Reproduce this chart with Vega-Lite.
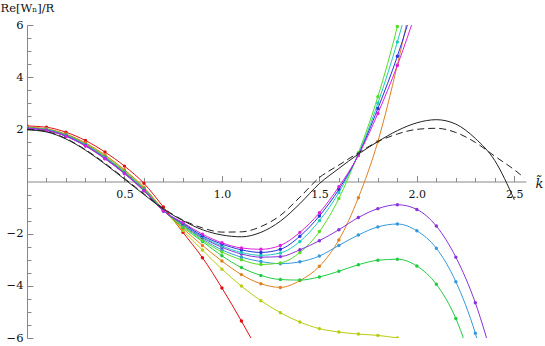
{
  "$schema": "https://vega.github.io/schema/vega-lite/v6.json",
  "width": 499,
  "height": 313,
  "autosize": {"type": "none"},
  "padding": {"left": 27, "top": 25, "right": 19, "bottom": 8},
  "background": "white",
  "config": {"view": {"stroke": null}, "axis": {"grid": false}, "font": "DejaVu Serif"},
  "datasets": {
    "col": [
      {"s":"red","x":0,"y":2.13},{"s":"red","x":0.1,"y":2.08},{"s":"red","x":0.2,"y":1.89},{"s":"red","x":0.3,"y":1.57},{"s":"red","x":0.4,"y":1.13},{"s":"red","x":0.5,"y":0.59},{"s":"red","x":0.6,"y":-0.07},{"s":"red","x":0.7,"y":-0.98},{"s":"red","x":0.8,"y":-1.95},{"s":"red","x":0.9,"y":-2.92},{"s":"red","x":1.0,"y":-4.08},{"s":"red","x":1.1,"y":-5.35},{"s":"red","x":1.2,"y":-6.7},
      {"s":"yg","x":0,"y":2.07},{"s":"yg","x":0.1,"y":2.01},{"s":"yg","x":0.2,"y":1.8},{"s":"yg","x":0.3,"y":1.46},{"s":"yg","x":0.4,"y":0.99},{"s":"yg","x":0.5,"y":0.42},{"s":"yg","x":0.6,"y":-0.25},{"s":"yg","x":0.7,"y":-1.09},{"s":"yg","x":0.8,"y":-1.88},{"s":"yg","x":0.9,"y":-2.63},{"s":"yg","x":1.0,"y":-3.36},{"s":"yg","x":1.1,"y":-4.01},{"s":"yg","x":1.2,"y":-4.57},{"s":"yg","x":1.3,"y":-5.03},{"s":"yg","x":1.4,"y":-5.39},{"s":"yg","x":1.5,"y":-5.64},{"s":"yg","x":1.6,"y":-5.77},{"s":"yg","x":1.7,"y":-5.85},{"s":"yg","x":1.8,"y":-5.9},{"s":"yg","x":1.9,"y":-6.0},
      {"s":"orange","x":0,"y":2.08},{"s":"orange","x":0.1,"y":2.02},{"s":"orange","x":0.2,"y":1.82},{"s":"orange","x":0.3,"y":1.48},{"s":"orange","x":0.4,"y":1.02},{"s":"orange","x":0.5,"y":0.45},{"s":"orange","x":0.6,"y":-0.22},{"s":"orange","x":0.7,"y":-1.08},{"s":"orange","x":0.8,"y":-1.8},{"s":"orange","x":0.9,"y":-2.45},{"s":"orange","x":1.0,"y":-3.05},{"s":"orange","x":1.1,"y":-3.57},{"s":"orange","x":1.2,"y":-3.92},{"s":"orange","x":1.3,"y":-4.06},{"s":"orange","x":1.4,"y":-3.8},{"s":"orange","x":1.5,"y":-3.25},{"s":"orange","x":1.6,"y":-2.24},{"s":"orange","x":1.7,"y":-0.62},{"s":"orange","x":1.8,"y":1.53},{"s":"orange","x":1.9,"y":4.47},{"s":"orange","x":2.0,"y":7.9},
      {"s":"green","x":0,"y":2.06},{"s":"green","x":0.1,"y":2.0},{"s":"green","x":0.2,"y":1.78},{"s":"green","x":0.3,"y":1.43},{"s":"green","x":0.4,"y":0.95},{"s":"green","x":0.5,"y":0.38},{"s":"green","x":0.6,"y":-0.28},{"s":"green","x":0.7,"y":-1.1},{"s":"green","x":0.8,"y":-1.75},{"s":"green","x":0.9,"y":-2.3},{"s":"green","x":1.0,"y":-2.85},{"s":"green","x":1.1,"y":-3.3},{"s":"green","x":1.2,"y":-3.6},{"s":"green","x":1.3,"y":-3.76},{"s":"green","x":1.4,"y":-3.78},{"s":"green","x":1.5,"y":-3.66},{"s":"green","x":1.6,"y":-3.44},{"s":"green","x":1.7,"y":-3.19},{"s":"green","x":1.8,"y":-3.02},{"s":"green","x":1.9,"y":-2.98},{"s":"green","x":2.0,"y":-3.24},{"s":"green","x":2.1,"y":-3.94},{"s":"green","x":2.2,"y":-5.25},{"s":"green","x":2.3,"y":-7.4},
      {"s":"lb","x":0,"y":2.05},{"s":"lb","x":0.1,"y":1.99},{"s":"lb","x":0.2,"y":1.77},{"s":"lb","x":0.3,"y":1.42},{"s":"lb","x":0.4,"y":0.93},{"s":"lb","x":0.5,"y":0.36},{"s":"lb","x":0.6,"y":-0.3},{"s":"lb","x":0.7,"y":-1.11},{"s":"lb","x":0.8,"y":-1.68},{"s":"lb","x":0.9,"y":-2.2},{"s":"lb","x":1.0,"y":-2.62},{"s":"lb","x":1.1,"y":-2.9},{"s":"lb","x":1.2,"y":-3.07},{"s":"lb","x":1.3,"y":-3.15},{"s":"lb","x":1.4,"y":-3.08},{"s":"lb","x":1.5,"y":-2.86},{"s":"lb","x":1.6,"y":-2.45},{"s":"lb","x":1.7,"y":-2.05},{"s":"lb","x":1.8,"y":-1.74},{"s":"lb","x":1.9,"y":-1.63},{"s":"lb","x":2.0,"y":-1.89},{"s":"lb","x":2.1,"y":-2.56},{"s":"lb","x":2.2,"y":-3.84},{"s":"lb","x":2.3,"y":-5.82},{"s":"lb","x":2.4,"y":-8.7},
      {"s":"lg","x":0,"y":2.05},{"s":"lg","x":0.1,"y":1.98},{"s":"lg","x":0.2,"y":1.76},{"s":"lg","x":0.3,"y":1.41},{"s":"lg","x":0.4,"y":0.92},{"s":"lg","x":0.5,"y":0.35},{"s":"lg","x":0.6,"y":-0.31},{"s":"lg","x":0.7,"y":-1.11},{"s":"lg","x":0.8,"y":-1.7},{"s":"lg","x":0.9,"y":-2.25},{"s":"lg","x":1.0,"y":-2.7},{"s":"lg","x":1.1,"y":-3.0},{"s":"lg","x":1.2,"y":-3.18},{"s":"lg","x":1.3,"y":-3.12},{"s":"lg","x":1.4,"y":-2.72},{"s":"lg","x":1.5,"y":-1.92},{"s":"lg","x":1.6,"y":-0.65},{"s":"lg","x":1.7,"y":1.1},{"s":"lg","x":1.8,"y":3.25},{"s":"lg","x":1.9,"y":5.94},{"s":"lg","x":2.0,"y":9.2},
      {"s":"purple","x":0,"y":2.04},{"s":"purple","x":0.1,"y":1.97},{"s":"purple","x":0.2,"y":1.75},{"s":"purple","x":0.3,"y":1.39},{"s":"purple","x":0.4,"y":0.9},{"s":"purple","x":0.5,"y":0.33},{"s":"purple","x":0.6,"y":-0.33},{"s":"purple","x":0.7,"y":-1.12},{"s":"purple","x":0.8,"y":-1.65},{"s":"purple","x":0.9,"y":-2.15},{"s":"purple","x":1.0,"y":-2.52},{"s":"purple","x":1.1,"y":-2.78},{"s":"purple","x":1.2,"y":-2.9},{"s":"purple","x":1.3,"y":-2.88},{"s":"purple","x":1.4,"y":-2.62},{"s":"purple","x":1.5,"y":-2.27},{"s":"purple","x":1.6,"y":-1.85},{"s":"purple","x":1.7,"y":-1.38},{"s":"purple","x":1.8,"y":-1.04},{"s":"purple","x":1.9,"y":-0.89},{"s":"purple","x":2.0,"y":-1.07},{"s":"purple","x":2.1,"y":-1.71},{"s":"purple","x":2.2,"y":-2.9},{"s":"purple","x":2.3,"y":-4.65},{"s":"purple","x":2.4,"y":-7.1},
      {"s":"cyan","x":0,"y":2.04},{"s":"cyan","x":0.1,"y":1.97},{"s":"cyan","x":0.2,"y":1.75},{"s":"cyan","x":0.3,"y":1.38},{"s":"cyan","x":0.4,"y":0.89},{"s":"cyan","x":0.5,"y":0.32},{"s":"cyan","x":0.6,"y":-0.34},{"s":"cyan","x":0.7,"y":-1.12},{"s":"cyan","x":0.8,"y":-1.62},{"s":"cyan","x":0.9,"y":-2.12},{"s":"cyan","x":1.0,"y":-2.47},{"s":"cyan","x":1.1,"y":-2.72},{"s":"cyan","x":1.2,"y":-2.83},{"s":"cyan","x":1.3,"y":-2.74},{"s":"cyan","x":1.4,"y":-2.3},{"s":"cyan","x":1.5,"y":-1.5},{"s":"cyan","x":1.6,"y":-0.42},{"s":"cyan","x":1.7,"y":1.05},{"s":"cyan","x":1.8,"y":3.0},{"s":"cyan","x":1.9,"y":5.35},{"s":"cyan","x":2.0,"y":8.1},
      {"s":"blue","x":0,"y":2.03},{"s":"blue","x":0.1,"y":1.96},{"s":"blue","x":0.2,"y":1.74},{"s":"blue","x":0.3,"y":1.37},{"s":"blue","x":0.4,"y":0.88},{"s":"blue","x":0.5,"y":0.31},{"s":"blue","x":0.6,"y":-0.35},{"s":"blue","x":0.7,"y":-1.13},{"s":"blue","x":0.8,"y":-1.6},{"s":"blue","x":0.9,"y":-2.08},{"s":"blue","x":1.0,"y":-2.4},{"s":"blue","x":1.1,"y":-2.62},{"s":"blue","x":1.2,"y":-2.72},{"s":"blue","x":1.3,"y":-2.6},{"s":"blue","x":1.4,"y":-2.1},{"s":"blue","x":1.5,"y":-1.32},{"s":"blue","x":1.6,"y":-0.3},{"s":"blue","x":1.7,"y":1.02},{"s":"blue","x":1.8,"y":2.8},{"s":"blue","x":1.9,"y":4.8},{"s":"blue","x":2.0,"y":7.2},
      {"s":"magenta","x":0,"y":2.03},{"s":"magenta","x":0.1,"y":1.96},{"s":"magenta","x":0.2,"y":1.73},{"s":"magenta","x":0.3,"y":1.36},{"s":"magenta","x":0.4,"y":0.87},{"s":"magenta","x":0.5,"y":0.3},{"s":"magenta","x":0.6,"y":-0.36},{"s":"magenta","x":0.7,"y":-1.13},{"s":"magenta","x":0.8,"y":-1.58},{"s":"magenta","x":0.9,"y":-2.02},{"s":"magenta","x":1.0,"y":-2.35},{"s":"magenta","x":1.1,"y":-2.55},{"s":"magenta","x":1.2,"y":-2.6},{"s":"magenta","x":1.3,"y":-2.45},{"s":"magenta","x":1.4,"y":-1.95},{"s":"magenta","x":1.5,"y":-1.2},{"s":"magenta","x":1.6,"y":-0.2},{"s":"magenta","x":1.7,"y":1.0},{"s":"magenta","x":1.8,"y":2.61},{"s":"magenta","x":1.9,"y":4.45},{"s":"magenta","x":2.0,"y":6.6}
    ],
    "solid": [
      {"x":0,"y":1.98},{"x":0.1,"y":1.9},{"x":0.2,"y":1.63},{"x":0.3,"y":1.2},{"x":0.4,"y":0.67},{"x":0.5,"y":0.09},{"x":0.6,"y":-0.5},{"x":0.7,"y":-1.06},{"x":0.8,"y":-1.5},{"x":0.9,"y":-1.85},{"x":1.0,"y":-2.05},{"x":1.1,"y":-2.12},{"x":1.2,"y":-1.95},{"x":1.3,"y":-1.52},{"x":1.4,"y":-0.85},{"x":1.5,"y":-0.08},{"x":1.6,"y":0.5},{"x":1.7,"y":1.05},{"x":1.8,"y":1.53},{"x":1.9,"y":1.95},{"x":2.0,"y":2.25},{"x":2.1,"y":2.37},{"x":2.2,"y":2.2},{"x":2.3,"y":1.65},{"x":2.4,"y":0.8},{"x":2.5,"y":-0.7}
    ],
    "dashed": [
      {"x":0,"y":2.0},{"x":0.1,"y":1.92},{"x":0.2,"y":1.65},{"x":0.3,"y":1.22},{"x":0.4,"y":0.7},{"x":0.5,"y":0.12},{"x":0.6,"y":-0.47},{"x":0.7,"y":-1.03},{"x":0.8,"y":-1.48},{"x":0.9,"y":-1.78},{"x":1.0,"y":-1.94},{"x":1.1,"y":-1.93},{"x":1.2,"y":-1.73},{"x":1.3,"y":-1.3},{"x":1.4,"y":-0.6},{"x":1.5,"y":0.15},{"x":1.6,"y":0.63},{"x":1.7,"y":1.1},{"x":1.8,"y":1.53},{"x":1.9,"y":1.82},{"x":2.0,"y":2.0},{"x":2.1,"y":2.04},{"x":2.2,"y":1.88},{"x":2.3,"y":1.5},{"x":2.4,"y":0.97},{"x":2.5,"y":0.45},{"x":2.55,"y":0.15}
    ]
  },
  "resolve": {"axis": {"x": "independent", "y": "independent"}},
  "layer": [
    {
      "data": {"name": "col"},
      "mark": {"type": "line", "interpolate": "monotone", "strokeWidth": 1, "clip": true},
      "encoding": {
        "x": {"field": "x", "type": "quantitative", "scale": {"domain": [0, 2.56], "nice": false, "zero": false},
          "axis": {"orient": "bottom", "offset": -156.5, "values": [0.5, 1, 1.5, 2, 2.5], "format": ".1f", "tickSize": -6, "labelPadding": 13, "domainColor": "#888", "tickColor": "#888", "labelFont": "DejaVu Serif", "labelFontSize": 11, "labelColor": "#111", "title": "k̃", "titleFont": "DejaVu Serif", "titleFontStyle": "italic", "titleFontWeight": "normal", "titleFontSize": 13, "titleColor": "#111", "titleX": 508, "titleY": 2, "titleAlign": "left", "titleBaseline": "middle", "titleAnchor": "end", "labelFlush": false}},
        "y": {"field": "y", "type": "quantitative", "scale": {"domain": [-6, 6], "nice": false, "zero": false},
          "axis": {"orient": "left", "values": [-6, -4, -2, 2, 4, 6], "format": "d", "tickSize": -6, "labelPadding": 10, "domainColor": "#888", "tickColor": "#888", "labelFont": "DejaVu Serif", "labelFontSize": 11.5, "labelColor": "#111", "title": "Re[Wₙ]/R", "titleFont": "DejaVu Serif", "titleFontWeight": "normal", "titleFontSize": 11.5, "titleColor": "#111", "titleAngle": 0, "titleX": -27, "titleY": -14, "titleAlign": "left", "titleBaseline": "alphabetic", "labelFlush": false}},
        "color": {"field": "s", "type": "nominal", "legend": null,
          "scale": {"domain": ["red", "yg", "orange", "green", "lb", "lg", "purple", "cyan", "blue", "magenta"],
                    "range": ["#e01010", "#b8cc10", "#e08020", "#20cc40", "#3399dd", "#55dd22", "#8833dd", "#20ccbb", "#2233dd", "#dd22dd"]}},
        "detail": {"field": "s"}
      }
    },
    {
      "data": {"name": "col"},
      "mark": {"type": "point", "filled": true, "size": 12, "opacity": 1, "clip": true},
      "encoding": {
        "x": {"field": "x", "type": "quantitative",
          "axis": {"orient": "bottom", "offset": -156.5, "values": [0.1,0.2,0.3,0.4,0.6,0.7,0.8,0.9,1.1,1.2,1.3,1.4,1.6,1.7,1.8,1.9,2.1,2.2,2.3,2.4,2.5], "labels": false, "domain": false, "tickSize": -4, "tickColor": "#888", "title": null}},
        "y": {"field": "y", "type": "quantitative",
          "axis": {"orient": "left", "values": [-5.5,-5,-4.5,-3.5,-3,-2.5,-1.5,-1,-0.5,0.5,1,1.5,2.5,3,3.5,4.5,5,5.5], "labels": false, "domain": false, "tickSize": -4, "tickColor": "#888", "title": null}},
        "color": {"field": "s", "type": "nominal", "legend": null}
      }
    },
    {
      "data": {"name": "dashed"},
      "mark": {"type": "line", "interpolate": "monotone", "strokeWidth": 1, "color": "#222", "strokeDash": [7, 4], "clip": true},
      "encoding": {
        "x": {"field": "x", "type": "quantitative", "axis": null},
        "y": {"field": "y", "type": "quantitative", "axis": null}
      }
    },
    {
      "data": {"name": "solid"},
      "mark": {"type": "line", "interpolate": "monotone", "strokeWidth": 1, "color": "#222", "clip": true},
      "encoding": {
        "x": {"field": "x", "type": "quantitative", "axis": null},
        "y": {"field": "y", "type": "quantitative", "axis": null}
      }
    }
  ]
}
